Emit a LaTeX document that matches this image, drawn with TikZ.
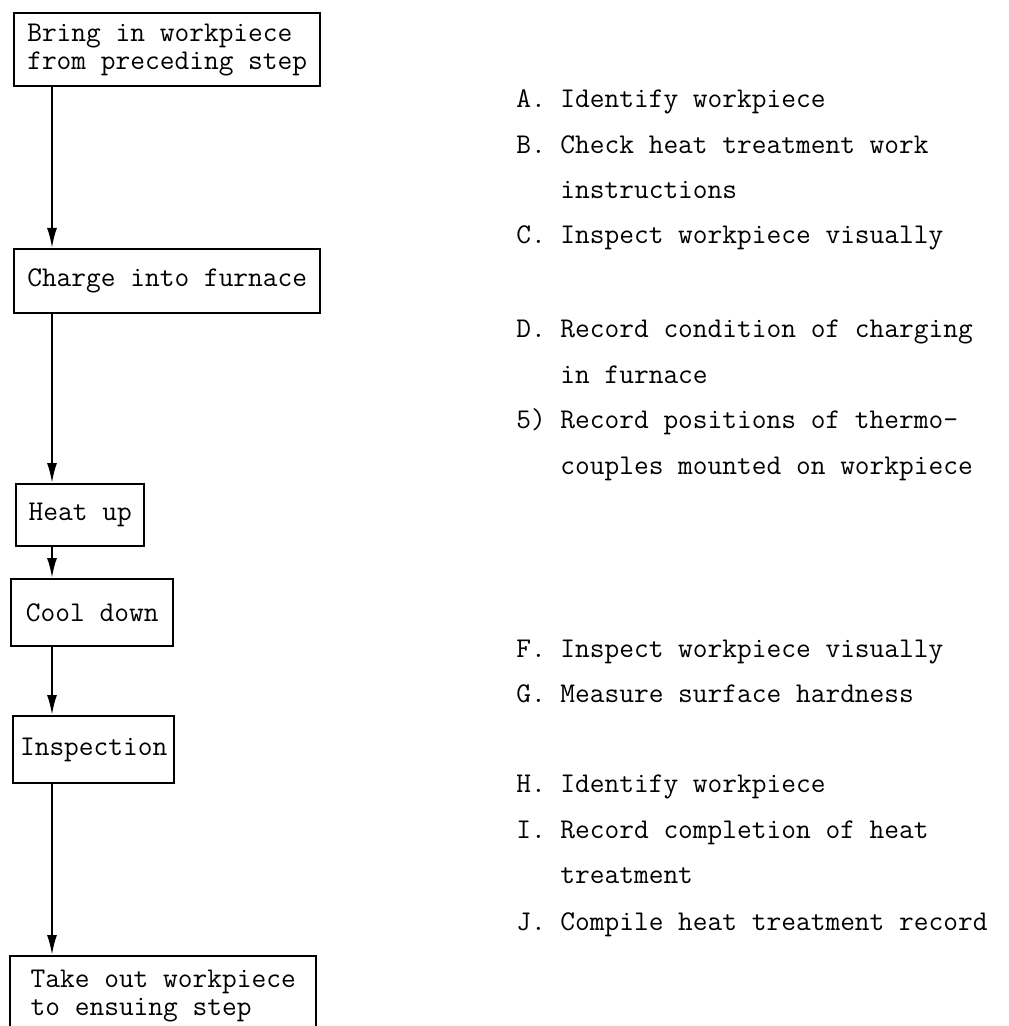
\documentclass[tikz,border=0pt]{standalone}
\usetikzlibrary{arrows.meta}
\begin{document}
\begin{tikzpicture}[x=0.5pt, y=-0.5pt,
	every node/.style={font=\fontsize{14.3pt}{14pt}\selectfont\ttfamily},
	stepbox/.style={draw, line width=1.2pt, inner xsep=2pt, inner ysep=1pt, anchor=north west, align=left},
	flow/.style={-{Latex[length=10pt, width=5pt]}, line width=1pt},
	item/.style={anchor=base west, inner sep=0pt}]
	\clip (0,0) rectangle (1008,1026);
	\coordinate (spine) at (52,0);
	% process steps
	\node[stepbox, minimum width=153pt, minimum height=36.5pt] (bring) at (13,12) {Bring in workpiece\\from preceding step};
	\node[stepbox, minimum width=153pt, minimum height=32pt] (charge) at (13,248) {Charge into furnace};
	\node[stepbox, minimum width=64pt, minimum height=31pt] (heat) at (15,483) {Heat up};
	\node[stepbox, minimum width=81pt, minimum height=33.5pt] (cool) at (10,578) {Cool down};
	\node[stepbox, minimum width=80.5pt, minimum height=33.5pt] (insp) at (12,715) {Inspection};
	\node[stepbox, minimum width=153pt, minimum height=40pt] (takeout) at (9,955) {Take out workpiece\\to ensuing step};
	\draw[flow] (bring.south -| spine) -- (charge.north -| spine);
	\draw[flow] (charge.south -| spine) -- (heat.north -| spine);
	\draw[flow] (heat.south -| spine) -- (cool.north -| spine);
	\draw[flow] (cool.south -| spine) -- (insp.north -| spine);
	\draw[flow] (insp.south -| spine) -- (takeout.north -| spine);
	% check items
	\node[item] (la) at (516,108) {A.};
	\node[item] (ta) at (560,108) {Identify workpiece};
	\node[item] (lb) at (516,154) {B.};
	\node[item] (tb) at (560,154) {Check heat treatment work};
	\node[item] (tb2) at (560,199) {instructions};
	\node[item] (lc) at (516,244) {C.};
	\node[item] (tc) at (560,244) {Inspect workpiece visually};
	\node[item] (ld) at (516,337) {D.};
	\node[item] (td) at (560,337) {Record condition of charging};
	\node[item] (td2) at (560,383) {in furnace};
	\node[item] (le) at (516,428) {5)};
	\node[item] (te) at (560,428) {Record positions of thermo-};
	\node[item] (te2) at (560,474) {couples mounted on workpiece};
	\node[item] (lf) at (516,657) {F.};
	\node[item] (tf) at (560,657) {Inspect workpiece visually};
	\node[item] (lg) at (516,702) {G.};
	\node[item] (tg) at (560,702) {Measure surface hardness};
	\node[item] (lh) at (516,792) {H.};
	\node[item] (th) at (560,792) {Identify workpiece};
	\node[item] (li) at (516,838) {I.};
	\node[item] (ti) at (560,838) {Record completion of heat};
	\node[item] (ti2) at (560,883) {treatment};
	\node[item] (lj) at (516,930) {J.};
	\node[item] (tj) at (560,930) {Compile heat treatment record};
\end{tikzpicture}
\end{document}
